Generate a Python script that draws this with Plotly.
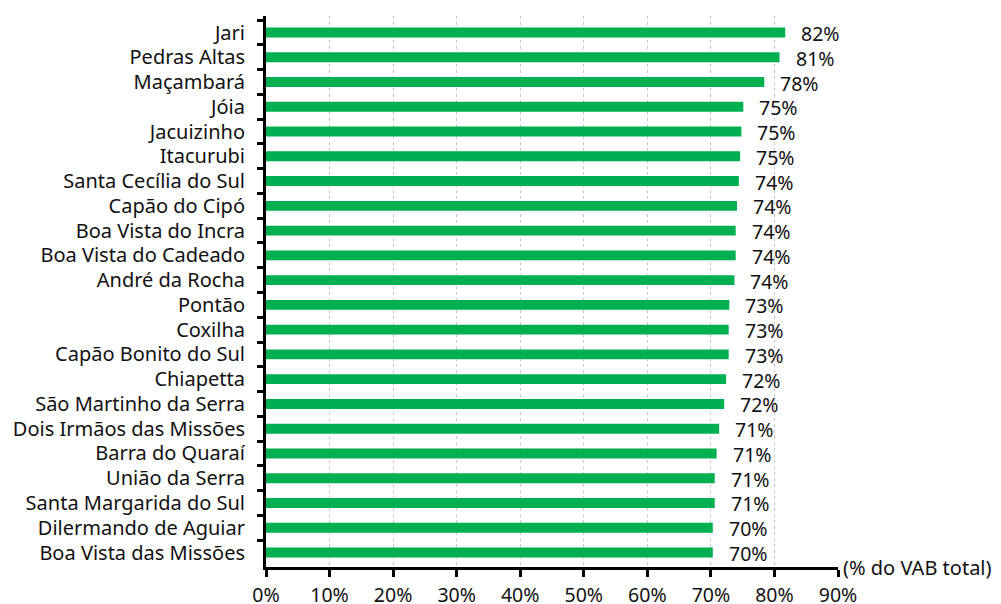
import plotly.graph_objects as go

municipios = [
    "Jari", "Pedras Altas", "Maçambará", "Jóia", "Jacuizinho", "Itacurubi",
    "Santa Cecília do Sul", "Capão do Cipó", "Boa Vista do Incra",
    "Boa Vista do Cadeado", "André da Rocha", "Pontão", "Coxilha",
    "Capão Bonito do Sul", "Chiapetta", "São Martinho da Serra",
    "Dois Irmãos das Missões", "Barra do Quaraí", "União da Serra",
    "Santa Margarida do Sul", "Dilermando de Aguiar", "Boa Vista das Missões",
]
valores = [
    81.7, 80.8, 78.4, 75.1, 74.8, 74.6, 74.4, 74.1, 73.9, 73.9, 73.7,
    72.9, 72.8, 72.8, 72.4, 72.1, 71.3, 70.9, 70.6, 70.6, 70.3, 70.3,
]
x_ticks = [0, 10, 20, 30, 40, 50, 60, 70, 80, 90]
x_labels = [f"{v}%" for v in x_ticks]
unidade = "(% do VAB total)"

FONT = "Noto Sans"
GREEN = "#00B050"
TXT = "#111111"

fig = go.Figure()
fig.add_trace(go.Bar(
    y=municipios, x=valores, orientation="h",
    marker=dict(color=GREEN, line=dict(width=0)),
    width=0.4, hoverinfo="x+y",
))

for m, v in zip(municipios, valores):
    fig.add_annotation(
        x=v, y=m, text=f"{round(v):d}%", showarrow=False,
        xanchor="left", yanchor="middle", xshift=14, yshift=-1,
        font=dict(family=FONT, size=19.5, color=TXT),
    )

fig.add_annotation(
    x=1.0, y=0, xref="paper", yref="paper", text=unidade, showarrow=False,
    xanchor="left", yanchor="middle", xshift=3, yshift=0,
    font=dict(family=FONT, size=20, color=TXT),
)

fig.update_layout(
    width=993, height=596,
    margin=dict(l=258, r=163, t=8, b=37),
    paper_bgcolor="white", plot_bgcolor="white",
    showlegend=False,
    font=dict(family=FONT, size=19.5, color=TXT),
)
fig.update_xaxes(
    range=[0, 90], tickvals=x_ticks, ticktext=x_labels,
    showline=True, linecolor="black", linewidth=3,
    ticks="outside", ticklen=7, tickwidth=3, tickcolor="black",
    showgrid=True, gridcolor="#c8c8c8", gridwidth=1, griddash="dot",
    zeroline=False, automargin=False, ticklabelstandoff=2,
    tickfont=dict(family=FONT, size=19.5, color=TXT),
)
fig.update_yaxes(
    categoryorder="array", categoryarray=municipios,
    autorange="reversed",
    showline=True, linecolor="black", linewidth=3,
    ticks="outside", ticklen=6, tickwidth=3, tickcolor="black",
    tickson="boundaries", ticklabelstandoff=14,
    showgrid=False, automargin=False,
    tickfont=dict(family=FONT, size=20, color=TXT),
)

fig.write_html("out.html")
